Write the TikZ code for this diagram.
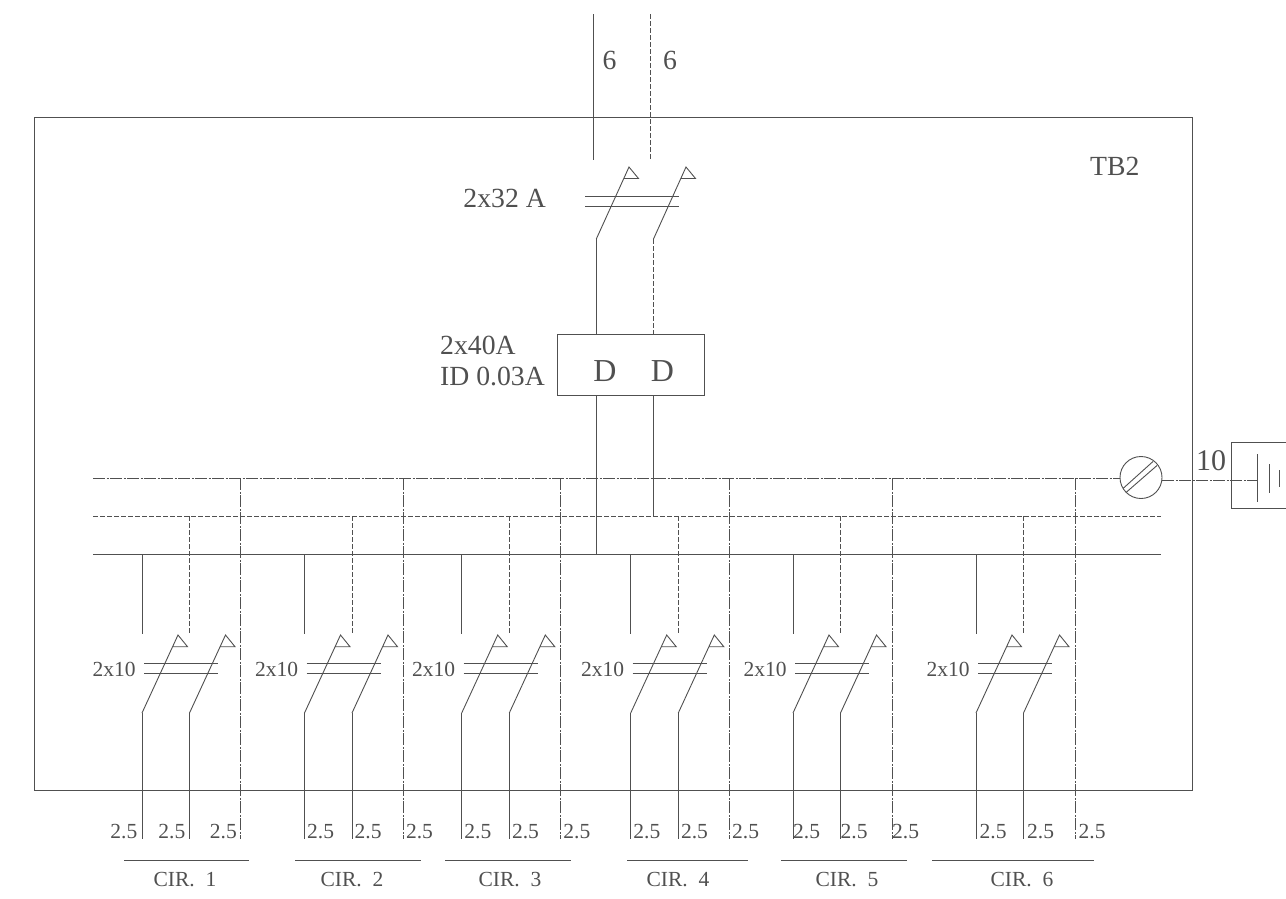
\documentclass[tikz,border=0pt]{standalone}
\usepackage{fontspec}
\setmainfont{Liberation Serif}
\usetikzlibrary{calc}
\definecolor{wire}{HTML}{505050}
\tikzset{
  solidline/.style={draw=wire, line width=0.9pt},
  neutral/.style={draw=wire, line width=0.9pt, dash pattern=on 5pt off 2pt},
  earth/.style={draw=wire, line width=0.9pt, dash pattern=on 12pt off 1.5pt on 2pt off 1.5pt},
  thinline/.style={draw=wire, line width=0.9pt},
  panel/.style={draw=wire, line width=1pt, rectangle, inner sep=0pt},
  rcd/.style={draw=wire, line width=1pt, rectangle, inner sep=0pt, minimum width=146.5pt, minimum height=61pt},
  screw/.style={draw=wire, line width=0.9pt, circle, inner sep=0pt, minimum size=42pt},
  lbl/.style={text=wire, inner sep=0pt, font=\fontsize{27.7}{31}\selectfont},
  small/.style={text=wire, inner sep=0pt, font=\fontsize{21.5}{24}\selectfont}
}
\begin{document}
\begin{tikzpicture}[x=1pt, y=-1pt]
  \useasboundingbox (0,0) rectangle (1286,898);

  % enclosure
  \node[panel, minimum width=1158pt, minimum height=673pt] (board) at (613,454) {};
  \node[lbl, anchor=west] (tb_label) at (1090,166) {TB2};

  % incoming wires
  \coordinate (in_l) at (593.7,14);
  \coordinate (in_l_end) at (593.7,160);
  \coordinate (in_n) at (650.7,14);
  \coordinate (in_n_end) at (650.7,160);
  \draw[solidline] (in_l) -- (in_l_end);
  \draw[neutral] (in_n) -- (in_n_end);
  \node[lbl] (in_l_label) at (609.5,60) {6};
  \node[lbl] (in_n_label) at (670,60) {6};

  % main breaker
  \coordinate (qa) at (596.3,239);
  \coordinate (qb) at (653.5,239);
  \coordinate (qa_top) at (629,167);
  \coordinate (qb_top) at (686,167);
  \draw[thinline] (qa) -- (qa_top) -- ++(9.5,11.5) -- ++(-14.5,0);
  \draw[thinline] (qb) -- (qb_top) -- ++(9.5,11.5) -- ++(-14.5,0);
  \coordinate (bar_a) at (585,196);
  \coordinate (bar_b) at (585,206);
  \draw[thinline] (bar_a) -- ++(94,0);
  \draw[thinline] (bar_b) -- ++(94,0);
  \node[lbl, anchor=east] (main_label) at (546,198.5) {2x32 A};

  % differential
  \node[rcd] (diff) at (631.2,365.4) {};
  \node[text=wire, inner sep=0pt, font=\fontsize{32}{32}\selectfont] (d_a) at (605,371) {D};
  \node[text=wire, inner sep=0pt, font=\fontsize{32}{32}\selectfont] (d_b) at (662.5,371) {D};
  \node[lbl, anchor=west] (diff_a) at (440,345) {2x40A};
  \node[lbl, anchor=west] (diff_b) at (440,376) {ID 0.03A};
  \draw[solidline] (qa) -- (qa |- diff.north);
  \draw[neutral] (qb) -- (qb |- diff.north);

  % bus bars
  \node[screw] (gnd) at (1141,477.5) {};
  \coordinate (earth_w) at (93,478.3);
  \coordinate (earth_e) at (gnd.west |- earth_w);
  \coordinate (neut_w) at (93,516);
  \coordinate (neut_e) at (1161,516);
  \coordinate (live_w) at (93,554.3);
  \coordinate (live_e) at (1161,554.3);
  \draw[earth] (earth_w) -- (earth_e);
  \draw[neutral] (neut_w) -- (neut_e);
  \draw[solidline] (live_w) -- (live_e);
  \draw[solidline] (qa |- diff.south) -- (qa |- live_w);
  \draw[solidline] (qb |- diff.south) -- (qb |- neut_w);

  % earth terminal
  \draw[thinline] ($(gnd)+(-18,11)$) -- ($(gnd)+(12,-16)$);
  \draw[thinline] ($(gnd)+(-15,15)$) -- ($(gnd)+(16,-12)$);
  \coordinate (bar1) at (1257,480);
  \draw[earth] (gnd.east |- bar1) -- (bar1);
  \draw[thinline] (1286,442.5) -- (1231,442.5) -- (1231,508) -- (1286,508);
  \draw[thinline] (1257,454) -- (1257,502);
  \draw[thinline] (1269,464) -- (1269,493);
  \draw[thinline] (1279,470) -- (1279,487);
  \node[text=wire, inner sep=0pt, font=\fontsize{30}{30}\selectfont] (gnd_label) at (1211,461) {10};

  % outgoing circuits
  \foreach \n/\xa/\xb/\xc in {1/142/189.5/240.7, 2/304.5/352/403.3, 3/461.7/509.3/560.7,
      4/630.7/678.3/729.5, 5/793/840.5/892, 6/976/1023.5/1075}{
    \coordinate (a\n) at (\xa,713);
    \coordinate (b\n) at (\xb,713);
    \coordinate (ea\n) at (\xc,478.3);
    \draw[solidline] (\xa,554.3) -- (\xa,634);
    \draw[neutral] (\xb,516) -- (\xb,634);
    \draw[earth] (ea\n) -- (\xc,839);
    \draw[thinline] (a\n) -- ++(36,-78) -- ++(9.5,11.7) -- ++(-14.5,0);
    \draw[thinline] (b\n) -- ++(36,-78) -- ++(9.5,11.7) -- ++(-14.5,0);
    \draw[thinline] (\xa+2,663.3) -- ++(74,0);
    \draw[thinline] (\xa+2,673.7) -- ++(74,0);
    \draw[solidline] (a\n) -- ++(0,126);
    \draw[solidline] (b\n) -- ++(0,126);
    \node[small] (cb\n) at (\xa-28,669) {2x10};
  }

  % cable sizes
  \foreach \n/\xa/\xb/\xc/\off in {2/304.5/352/403.3/2.5, 3/461.7/509.3/560.7/2.5,
      4/630.7/678.3/729.5/2.5, 5/793/840.5/892/0, 6/976/1023.5/1075/3.5}{
    \node[small, anchor=west] (s\n a) at (\xa+\off,831.5) {2.5};
    \node[small, anchor=west] (s\n b) at (\xb+\off,831.5) {2.5};
    \node[small, anchor=west] (s\n c) at (\xc+\off,831.5) {2.5};
  }
  \node[small, anchor=east] (s1a) at (137.5,831.5) {2.5};
  \node[small, anchor=east] (s1b) at (185.5,831.5) {2.5};
  \node[small, anchor=east] (s1c) at (237,831.5) {2.5};

  % circuit names
  \foreach \n/\xl/\xr/\xt in {1/124/249/185, 2/295/421/352, 3/445/571/510,
      4/627/748/678, 5/781/907/847, 6/932/1094/1022}{
    \coordinate (u\n) at (\xl,860.5);
    \draw[thinline] (u\n) -- (\xr,860.5);
    \node[small] (cir\n) at (\xt,880) {CIR.~~\n};
  }
\end{tikzpicture}
\end{document}
